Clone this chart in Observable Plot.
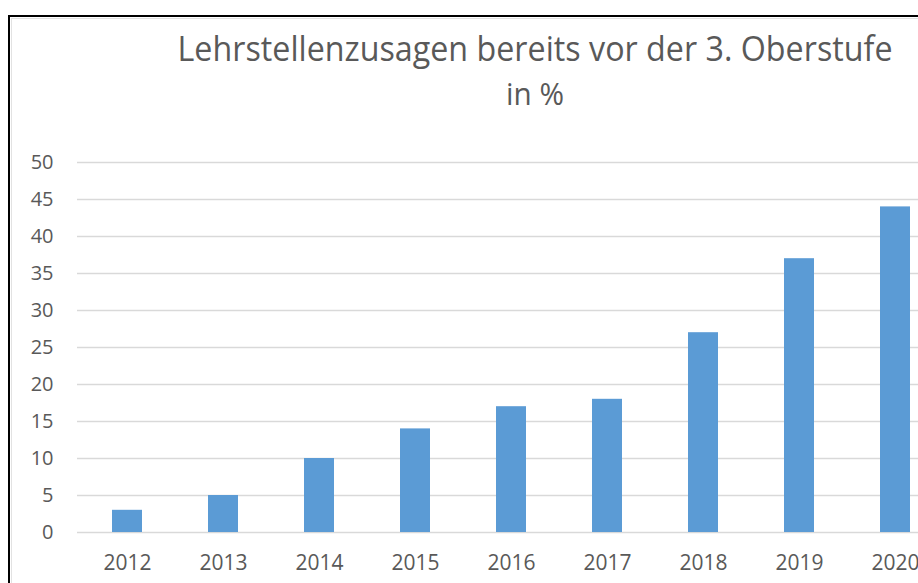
<!DOCTYPE html>
<html>
<head>
<meta charset="utf-8">
<script src="https://cdn.jsdelivr.net/npm/d3@7"></script>
<script src="https://cdn.jsdelivr.net/npm/@observablehq/plot@0.6"></script>
<style>
  html, body { margin: 0; padding: 0; background: #fff; overflow: hidden; width: 918px; height: 583px; }
  #frame { position: absolute; left: 8px; top: 15px; width: 1000px; height: 1000px;
           border-left: 2px solid #000; border-top: 2px solid #000; box-sizing: border-box; }
  #inner { position: absolute; left: 11px; top: 18px; width: 1000px; height: 1000px;
           border-left: 1px solid #e2e2e2; border-top: 1px solid #e2e2e2; box-sizing: border-box; }
  .title { position: absolute; left: 535px; font-family: "Open Sans", sans-serif; color: #595959;
           white-space: nowrap; transform-origin: 0 0; line-height: 1; }
  #chart { position: absolute; left: 0; top: 140px; width: 950px; }
  #chart svg { max-width: none !important; }
  #chart g[aria-label="x-axis tick label"], #chart g[aria-label="x-axis tick label"] text { font-size: 21px !important; }
  #chart g[aria-label="y-axis tick label"], #chart g[aria-label="y-axis tick label"] text { font-size: 20px !important; }
</style>
</head>
<body>
<div id="frame"></div>
<div id="inner"></div>
<div class="title" id="t1" style="font-size:34px;">Lehrstellenzusagen bereits vor der 3. Oberstufe</div>
<div class="title" id="t2" style="font-size:31px;">in %</div>
<div id="chart"></div>
<script>
const years = ["2012", "2013", "2014", "2015", "2016", "2017", "2018", "2019", "2020"];
const values = [3, 5, 10, 14, 17, 18, 27, 37, 44];
const yTicks = [0, 5, 10, 15, 20, 25, 30, 35, 40, 45, 50];

const data = years.map((y, i) => ({year: y, value: values[i]}));

function placeTitle(id, targetWidth, baseline, fontSize) {
  const el = document.getElementById(id);
  const w = el.getBoundingClientRect().width;
  const s = targetWidth / w;
  const top = baseline - fontSize * 0.80;
  el.style.top = top + "px";
  el.style.transform = `translateX(${-targetWidth / 2}px) scaleX(${s})`;
}
placeTitle("t1", 715, 58, 34);
placeTitle("t2", 58, 103, 31);

const chart = Plot.plot({
  width: 950,
  height: 443,
  marginTop: 22,
  marginBottom: 51,
  marginLeft: 77,
  marginRight: 6,
  style: {fontFamily: "Open Sans, sans-serif", fontSize: "20px", color: "#595959", background: "transparent", maxWidth: "none"},
  x: {domain: years, paddingInner: 0.69, paddingOuter: 0.345, label: null},
  y: {domain: [0, 50], label: null},
  marks: [
    Plot.ruleY(yTicks, {stroke: "#d9d9d9", strokeWidth: 1.5}),
    Plot.barY(data, {x: "year", y: "value", fill: "#5b9bd5"}),
    Plot.axisX({tickSize: 0, tickPadding: 23, fill: "#595959", label: null}),
    Plot.axisY({ticks: yTicks, tickSize: 0, tickPadding: 24, fill: "#595959", label: null})
  ]
});
chart.style.maxWidth = "none";
document.getElementById("chart").appendChild(chart);
</script>
</body>
</html>
